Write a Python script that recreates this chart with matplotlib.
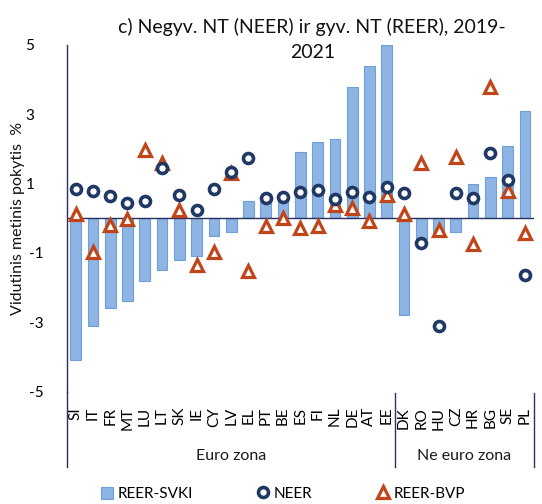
import matplotlib
matplotlib.use('Agg')
import matplotlib.pyplot as plt
import matplotlib.transforms as mtransforms
from matplotlib.lines import Line2D
from matplotlib.patches import Patch

countries = ['SI', 'IT', 'FR', 'MT', 'LU', 'LT', 'SK', 'IE', 'CY', 'LV', 'EL', 'PT', 'BE', 'ES',
             'FI', 'NL', 'DE', 'AT', 'EE', 'DK', 'RO', 'HU', 'CZ', 'HR', 'BG', 'SE', 'PL']
groups = ['Euro zona', 'Ne euro zona']
group_sizes = [19, 8]
reer_svki = [-4.1, -3.1, -2.6, -2.4, -1.8, -1.5, -1.2, -1.1, -0.5, -0.4, 0.5, 0.5, 0.5, 1.9,
             2.2, 2.3, 3.8, 4.4, 5.0, -2.8, -0.6, -0.4, -0.4, 1.0, 1.2, 2.1, 3.1]
neer = [0.84, 0.80, 0.64, 0.43, 0.50, 1.45, 0.67, 0.24, 0.85, 1.34, 1.75, 0.60, 0.62, 0.75,
        0.81, 0.55, 0.75, 0.61, 0.90, 0.74, -0.72, -3.10, 0.73, 0.59, 1.89, 1.10, -1.63]
reer_bvp = [0.12, -0.97, -0.19, -0.02, 1.96, 1.60, 0.24, -1.36, -0.96, 1.30, -1.52, -0.21, 0.02, -0.27,
            -0.22, 0.38, 0.31, -0.08, 0.67, 0.13, 1.59, -0.33, 1.78, -0.75, 3.80, 0.80, -0.41]
yticks = [5, 3, 1, -1, -3, -5]
series_names = ['REER-SVKI', 'NEER', 'REER-BVP']
title_lines = ['c) Negyv. NT (NEER) ir gyv. NT (REER), 2019-', '2021']
ylabel = 'Vidutinis metinis pokytis  %'

plt.rcParams['font.family'] = ['Lato', 'DejaVu Sans']

W, H = 542, 504
fig = plt.figure(figsize=(W / 100, H / 100), dpi=100)
ax_l, ax_r, ax_t, ax_b = 67, 533.6, 45, 391.6
ax = fig.add_axes([ax_l / W, 1 - ax_b / H, (ax_r - ax_l) / W, (ax_b - ax_t) / H])

navy_axis = '#28325F'
bar_fc = '#8EB4E3'
bar_ec = '#6E9FDB'
circ_c = '#1F3864'
tri_c = '#C0461A'

x = list(range(len(countries)))
ax.bar(x, reer_svki, width=0.62, color=bar_fc, edgecolor=bar_ec, linewidth=0.8, zorder=2)
ax.axhline(0, color=navy_axis, lw=1.0, zorder=3)
ax.plot(x, reer_bvp, linestyle='none', marker='^', markersize=8.5, markeredgewidth=2.3,
        markerfacecolor='white', markeredgecolor=tri_c, zorder=4)
ax.plot(x, neer, linestyle='none', marker='o', markersize=7.2, markeredgewidth=2.6,
        markerfacecolor='white', markeredgecolor=circ_c, zorder=5)

ax.set_xlim(-0.5, len(countries) - 0.5)
ax.set_ylim(-5, 5)
for s in ['top', 'right', 'bottom']:
    ax.spines[s].set_visible(False)
ax.spines['left'].set_color(navy_axis)
ax.spines['left'].set_linewidth(1.0)

ax.set_yticks(yticks)
ax.set_yticklabels([str(v) for v in yticks], fontsize=11)
ax.tick_params(axis='y', length=0, pad=17)
for lab, v in zip(ax.get_yticklabels(), yticks):
    if v > 0:
        lab.set_transform(lab.get_transform() + mtransforms.ScaledTranslation(-9 / 100, 0, fig.dpi_scale_trans))

ax.set_xticks(x)
ax.set_xticklabels(countries, rotation=90, fontsize=11)
ax.tick_params(axis='x', length=0, pad=11)

# group separators and extended axis lines
blend = mtransforms.blended_transform_factory(ax.transData, ax.transAxes)
y_top_sep = (ax_b - 393) / (ax_b - ax_t)
y_bot = (ax_b - 467) / (ax_b - ax_t)
ax.plot([-0.5, -0.5], [0, y_bot], transform=blend, color=navy_axis, lw=1.0, clip_on=False)
start = -0.5
for g, n in zip(groups, group_sizes):
    end = start + n
    ax.plot([end, end], [y_top_sep, y_bot], transform=blend, color=navy_axis, lw=1.0, clip_on=False)
    ax.text((start + end) / 2, (ax_b - 456) / (ax_b - ax_t), g, transform=blend,
            ha='center', va='center', fontsize=11.5, color='#1a1a1a')
    start = end

fig.text(312 / W, 1 - 27 / H, title_lines[0], ha='center', va='center', fontsize=14, color='#111111')
fig.text(313 / W, 1 - 53 / H, title_lines[1], ha='center', va='center', fontsize=14, color='#111111')
fig.text(18 / W, 1 - 218 / H, ylabel, rotation=90, ha='center', va='center', fontsize=11.5, color='#111111')

handles = [
    Patch(facecolor=bar_fc, edgecolor=bar_ec, linewidth=0.8),
    Line2D([], [], linestyle='none', marker='o', markersize=7.2, markeredgewidth=2.6,
           markerfacecolor='white', markeredgecolor=circ_c),
    Line2D([], [], linestyle='none', marker='^', markersize=8.5, markeredgewidth=2.3,
           markerfacecolor='white', markeredgecolor=tri_c),
]
fig.legend(handles, series_names, loc='center', bbox_to_anchor=(283 / W, 1 - 494 / H), ncol=3,
           frameon=False, fontsize=11, handlelength=0.8, handleheight=0.8, handletextpad=0.3,
           columnspacing=4.2, borderpad=0)

fig.savefig('out.png', dpi=100)
